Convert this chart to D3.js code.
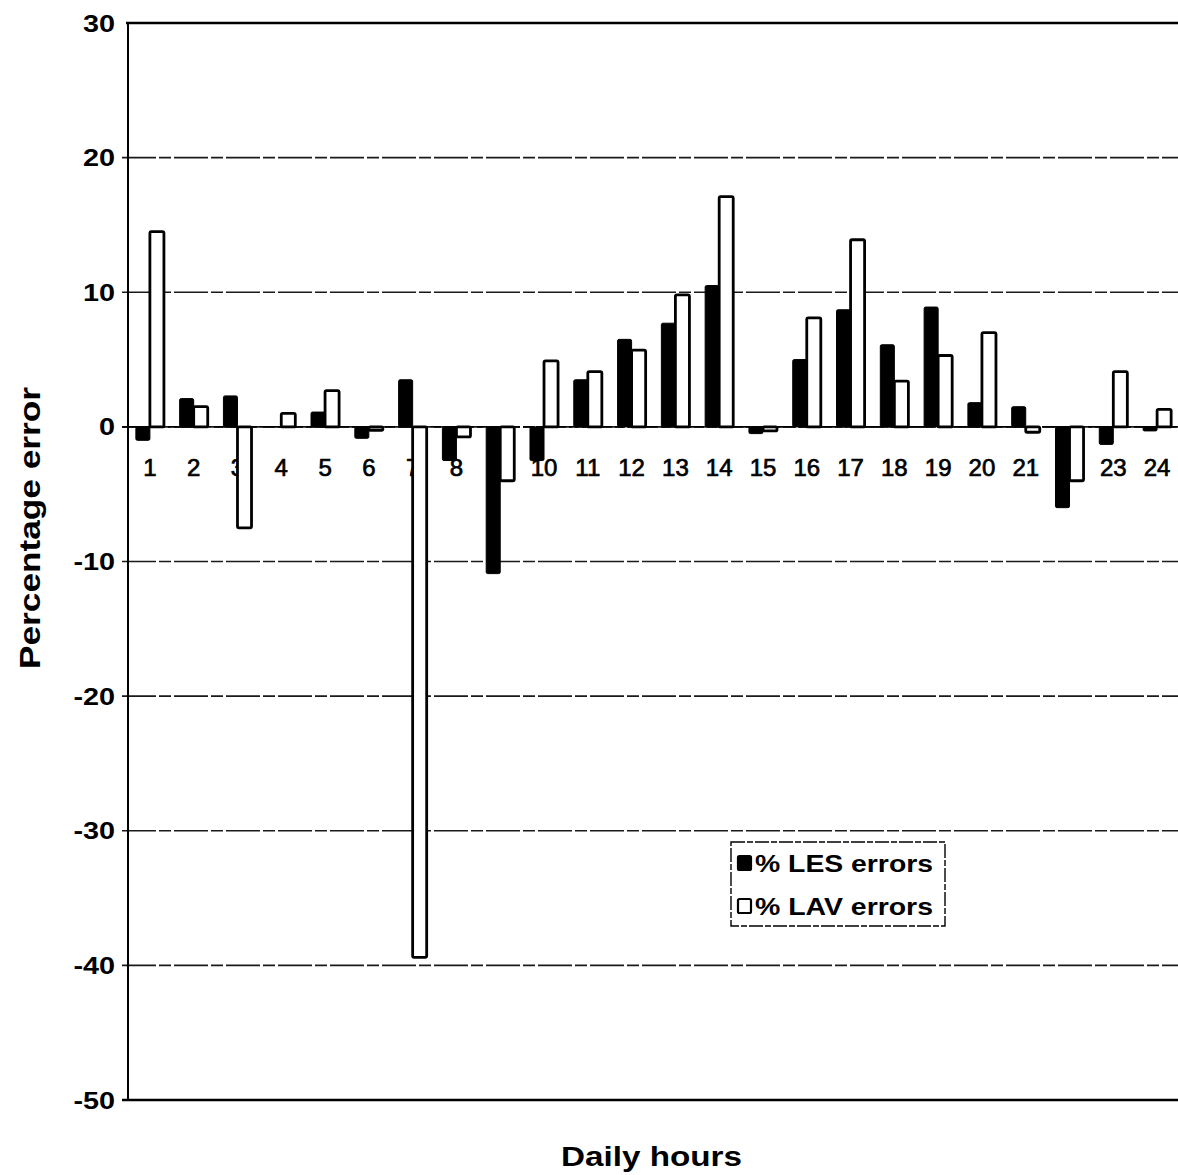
<!DOCTYPE html>
<html>
<head>
<meta charset="utf-8">
<script src="https://cdn.jsdelivr.net/npm/d3@7"></script>
<style>
  html, body { margin: 0; padding: 0; background: #fff; }
  svg { display: block; }
  text { font-family: "Liberation Sans", Arial, Helvetica, sans-serif; fill: #000; }
</style>
</head>
<body>
<svg id="chart" width="1178" height="1175"></svg>
<script>
// Hourly forecast errors (%) for the two methods
const hours = ["1","2","3","4","5","6","7","8","9","10","11","12","13","14","15","16","17","18","19","20","21","22","23","24"];
const lesErrors = [-1.0, 2.1, 2.3, 0, 1.1, -0.85, 3.5, -2.5, -10.9, -2.5, 3.5, 6.5, 7.7, 10.5, -0.5, 5.0, 8.7, 6.1, 8.9, 1.8, 1.5, -6.0, -1.3, -0.3];
const lavErrors = [14.5, 1.5, -7.5, 1.0, 2.7, -0.25, -39.4, -0.75, -4.0, 4.9, 4.1, 5.7, 9.8, 17.1, -0.3, 8.1, 13.9, 3.4, 5.3, 7.0, -0.4, -4.0, 4.1, 1.3];
const seriesNames = ["% LES errors", "% LAV errors"];
const yTicks = [30, 20, 10, 0, -10, -20, -30, -40, -50];

const svg = d3.select("#chart");
const plot = { left: 128, right: 1179, top: 23, bottom: 1100 };

const y = d3.scaleLinear().domain([-50, 30]).range([plot.bottom, plot.top]);
const x0 = d3.scaleBand().domain(hours).range([plot.left, plot.right]).padding(0);
const x1 = d3.scaleBand().domain(seriesNames).range([0, x0.bandwidth()])
  .paddingInner(0).paddingOuter(0.56);

const rows = hours.map((h, i) => ({ hour: h, values: [
  { name: seriesNames[0], v: lesErrors[i] },
  { name: seriesNames[1], v: lavErrors[i] }
]}));

// horizontal gridlines (30 and -50 are drawn as the frame)
svg.append("g").selectAll("line")
  .data(yTicks.filter(t => t !== 30 && t !== -50))
  .join("line")
  .attr("x1", plot.left - 6).attr("x2", plot.right)
  .attr("y1", d => y(d)).attr("y2", d => y(d))
  .attr("stroke", "#1a1a1a").attr("stroke-width", 1.6)
  .attr("stroke-dasharray", "34,3,12,3");

// frame: top, bottom and left axis
svg.append("line").attr("x1", plot.left - 2).attr("x2", plot.right)
  .attr("y1", y(30)).attr("y2", y(30)).attr("stroke", "#000").attr("stroke-width", 2.6);
svg.append("line").attr("x1", plot.left - 6).attr("x2", plot.right)
  .attr("y1", y(-50)).attr("y2", y(-50)).attr("stroke", "#000").attr("stroke-width", 2.4);
svg.append("line").attr("x1", plot.left).attr("x2", plot.left)
  .attr("y1", y(30)).attr("y2", y(-50)).attr("stroke", "#000").attr("stroke-width", 2);

// y tick labels
svg.append("g").selectAll("text")
  .data(yTicks)
  .join("text")
  .attr("transform", d => `translate(115,${y(d) + 8.5}) scale(1.2,1)`)
  .attr("text-anchor", "end")
  .attr("font-size", 24)
  .attr("font-weight", "bold")
  .text(d => d);

// hour labels just below the zero line (bars overlap them)
svg.append("g").selectAll("text")
  .data(hours)
  .join("text")
  .attr("x", d => x0(d) + x0.bandwidth() / 2)
  .attr("y", y(0) + 49)
  .attr("text-anchor", "middle")
  .attr("font-size", 24)
  .attr("stroke", "#000").attr("stroke-width", 0.7)
  .text(d => d);

// bars
const groups = svg.append("g").selectAll("g")
  .data(rows)
  .join("g")
  .attr("transform", d => `translate(${x0(d.hour)},0)`);

groups.selectAll("rect")
  .data(d => d.values)
  .join("rect")
  .attr("x", d => x1(d.name))
  .attr("width", x1.bandwidth())
  .attr("y", d => Math.min(y(d.v), y(0)))
  .attr("height", d => Math.abs(y(d.v) - y(0)))
  .attr("rx", 1.5)
  .attr("fill", d => d.name === seriesNames[0] ? "#000" : "#fff")
  .attr("stroke", "#000")
  .attr("stroke-width", d => d.name === seriesNames[0] ? 1 : 2.8);

// zero line
svg.append("line").attr("x1", plot.left - 6).attr("x2", plot.right)
  .attr("y1", y(0)).attr("y2", y(0))
  .attr("stroke", "#000").attr("stroke-width", 1.8)
  .attr("stroke-dasharray", "30,3,10,3");

// axis titles
svg.append("text")
  .attr("x", 561).attr("y", 1166)
  .attr("font-size", 28).attr("font-weight", "bold")
  .attr("textLength", 181).attr("lengthAdjust", "spacingAndGlyphs")
  .text("Daily hours");

svg.append("text")
  .attr("transform", `translate(40,669) rotate(-90)`)
  .attr("font-size", 30).attr("font-weight", "bold")
  .attr("textLength", 282).attr("lengthAdjust", "spacingAndGlyphs")
  .text("Percentage error");

// legend
const legend = svg.append("g").attr("transform", "translate(731,842)");
legend.append("rect").attr("width", 214).attr("height", 84)
  .attr("fill", "#fff").attr("stroke", "#000").attr("stroke-width", 1.4)
  .attr("stroke-dasharray", "14,2,6,2");
seriesNames.forEach((name, i) => {
  const row = legend.append("g").attr("transform", `translate(7,${21 + i * 43})`);
  row.append("rect").attr("x", 0).attr("y", -7).attr("width", 13).attr("height", 14)
    .attr("rx", 1.5)
    .attr("fill", i === 0 ? "#000" : "#fff").attr("stroke", "#000").attr("stroke-width", 2.2);
  row.append("text").attr("x", 17).attr("y", 8.5)
    .attr("font-size", 23).attr("font-weight", "bold")
    .attr("textLength", 178).attr("lengthAdjust", "spacingAndGlyphs")
    .text(name);
});
</script>
</body>
</html>
